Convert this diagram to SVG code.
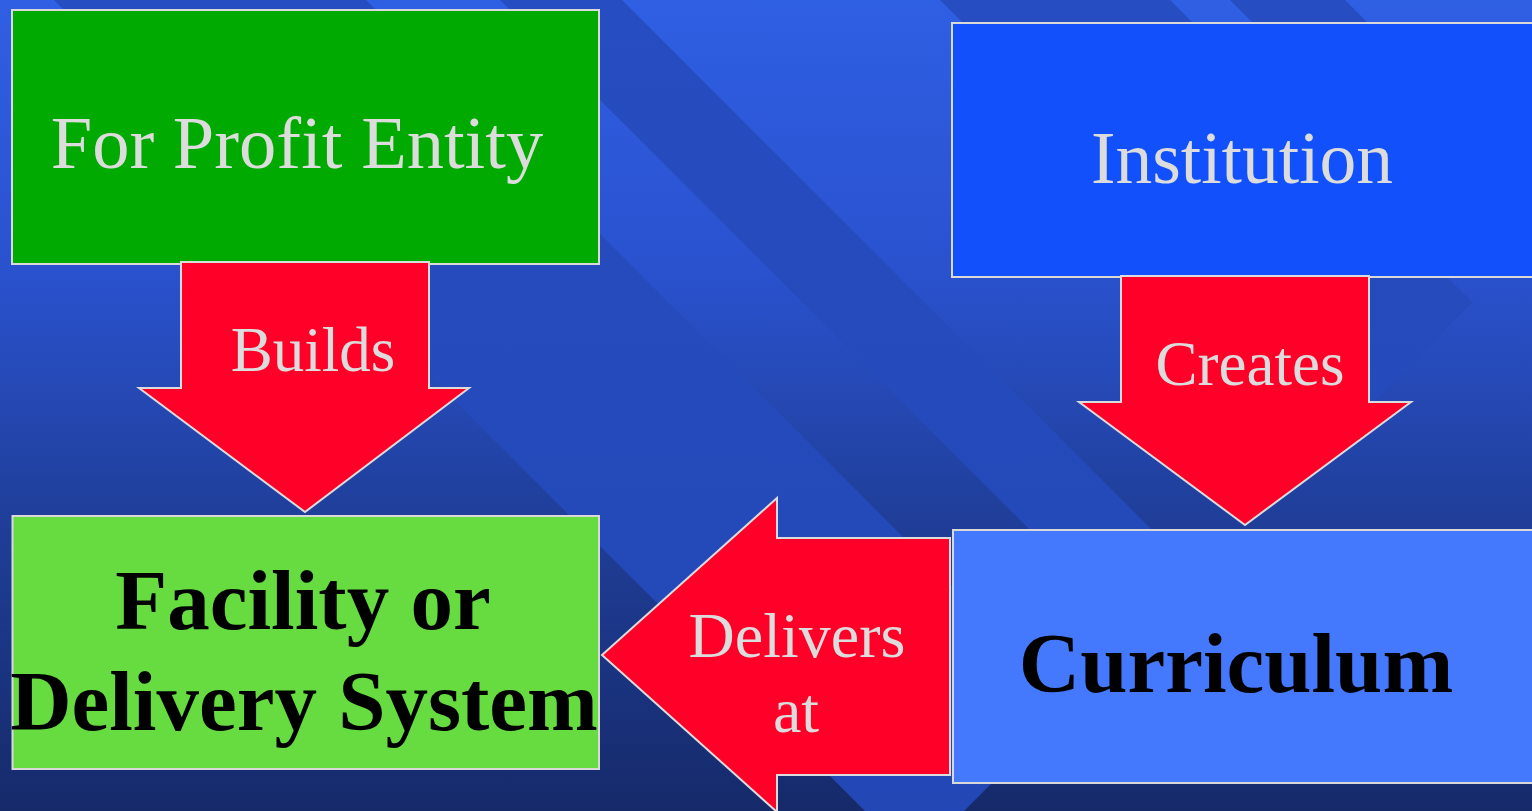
<svg xmlns="http://www.w3.org/2000/svg" width="1532" height="811" viewBox="0 0 1532 811">
  <defs>
    <linearGradient id="gA" x1="0" y1="0" x2="0" y2="811" gradientUnits="userSpaceOnUse">
      <stop offset="0" stop-color="#2f5fe3"/>
      <stop offset="0.33" stop-color="#2a52cf"/>
      <stop offset="0.63" stop-color="#203f9b"/>
      <stop offset="1" stop-color="#162a6a"/>
    </linearGradient>
    <linearGradient id="gB" x1="0" y1="0" x2="0" y2="811" gradientUnits="userSpaceOnUse">
      <stop offset="0" stop-color="#264dc1"/>
      <stop offset="1" stop-color="#2347b5"/>
    </linearGradient>
    <clipPath id="bandClip">
      <polygon points="0,0 1532,0 1532,243 964,811 0,811"/>
    </clipPath>
    <style>
      .box { stroke: #d9d9d9; stroke-width: 2; }
      .arrow { fill: #ff0029; stroke: #dcdcdc; stroke-width: 2; stroke-linejoin: miter; }
      .lbl { font-family: "Liberation Serif", "Times New Roman", serif; fill: #dcdcdc; text-anchor: middle; }
      .big { font-family: "Liberation Serif", "Times New Roman", serif; font-weight: bold; fill: #000000; text-anchor: middle; font-size: 85px; }
    </style>
  </defs>

  <g id="background">
    <rect x="0" y="0" width="1532" height="811" fill="url(#gA)"/>
    <g clip-path="url(#bandClip)" fill="url(#gB)">
      <polygon points="54,0 366,0 1177,811 865,811"/>
      <polygon points="500,0 622,0 1433,811 1311,811"/>
      <polygon points="940,0 1170,0 1981,811 1751,811"/>
      <polygon points="1230,0 1345,0 2156,811 2041,811"/>
    </g>
  </g>

  <g id="node-for-profit-entity">
    <rect class="box" x="12" y="10" width="587" height="254" fill="#00aa00"/>
    <text class="lbl" x="297" y="168" font-size="74.5">For Profit Entity</text>
  </g>

  <g id="node-institution">
    <rect class="box" x="952" y="23" width="600" height="254" fill="#1150fa"/>
    <text class="lbl" x="1242" y="183" font-size="73.5">Institution</text>
  </g>

  <g id="node-facility">
    <rect class="box" x="12.5" y="516" width="586.5" height="253" fill="#66dc41"/>
    <text class="big" x="303" y="629">Facility or</text>
    <text class="big" x="304" y="730">Delivery System</text>
  </g>

  <g id="node-curriculum">
    <rect class="box" x="953" y="530" width="600" height="253" fill="#4479fd"/>
    <text class="big" x="1236" y="692">Curriculum</text>
  </g>

  <g id="connectors">
    <g id="edge-builds">
      <polygon class="arrow" points="181,262 429,262 429,388 469,388 305,512 139,388 181,388"/>
      <text class="lbl" x="313" y="371" font-size="63">Builds</text>
    </g>
    <g id="edge-creates">
      <polygon class="arrow" points="1121,276 1369,276 1369,402 1411,402 1245,525 1079,402 1121,402"/>
      <text class="lbl" x="1250" y="385" font-size="63">Creates</text>
    </g>
    <g id="edge-delivers-at">
      <polygon class="arrow" points="950,538 950,775 777,775 777,812 602,655 777,498 777,538"/>
      <text class="lbl" x="797" y="657" font-size="64">Delivers</text>
      <text class="lbl" x="796" y="732" font-size="64">at</text>
    </g>
  </g>
</svg>
